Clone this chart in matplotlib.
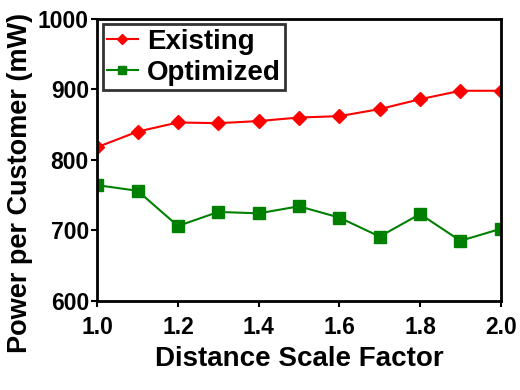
import numpy as np
import matplotlib
matplotlib.use('Agg')
import matplotlib.pyplot as plt

scale = [1.0, 1.1, 1.2, 1.3, 1.4, 1.5, 1.6, 1.7, 1.8, 1.9, 2.0]
existing = [818, 840, 853, 852, 855, 860, 862, 872, 886, 898, 898]
optimized = [764, 756, 706, 726, 724, 734, 718, 691, 723, 685, 702]

plt.rcParams['font.family'] = ['Liberation Sans', 'DejaVu Sans']
plt.rcParams['font.weight'] = 'bold'

fig = plt.figure(figsize=(5.2, 3.9), dpi=100)
ax = fig.add_axes([0.187, 0.229, 0.776, 0.7225])

ax.plot(scale, existing, color='#ff0000', marker='D', markersize=7.5, lw=1.5, label='Existing')
ax.plot(scale, optimized, color='#008000', marker='s', markersize=8, lw=1.5, label='Optimized')

ax.set_xlim(1.0, 2.0)
ax.set_ylim(600, 1000)
ax.set_xticks(np.arange(1.0, 2.01, 0.2))
ax.set_yticks([600, 700, 800, 900, 1000])
ax.xaxis.set_major_formatter(matplotlib.ticker.FormatStrFormatter('%.1f'))
for s in ax.spines.values():
    s.set_linewidth(2)
ax.tick_params(direction='out', length=4, width=1.5, labelsize=16.5, pad=2)
ax.tick_params(axis='x', pad=7)
for t in ax.get_xticklabels() + ax.get_yticklabels():
    t.set_fontweight('bold')

ax.set_xlabel('Distance Scale Factor', fontsize=20, fontweight='bold', labelpad=5)
ax.set_ylabel('Power per Customer (mW)', fontsize=19.5, fontweight='bold')
# label sits lower than the axes centre in the original
ax.yaxis.set_label_coords(-0.16, 0.417)

leg = ax.legend(loc='upper left', fancybox=False, edgecolor='black', fontsize=20,
                handlelength=1.1, handletextpad=0.35, markerscale=0.7,
                borderpad=0.15, labelspacing=0.2, borderaxespad=0.2)
leg.get_frame().set_linewidth(2)

fig.savefig('out.png', dpi=100)
